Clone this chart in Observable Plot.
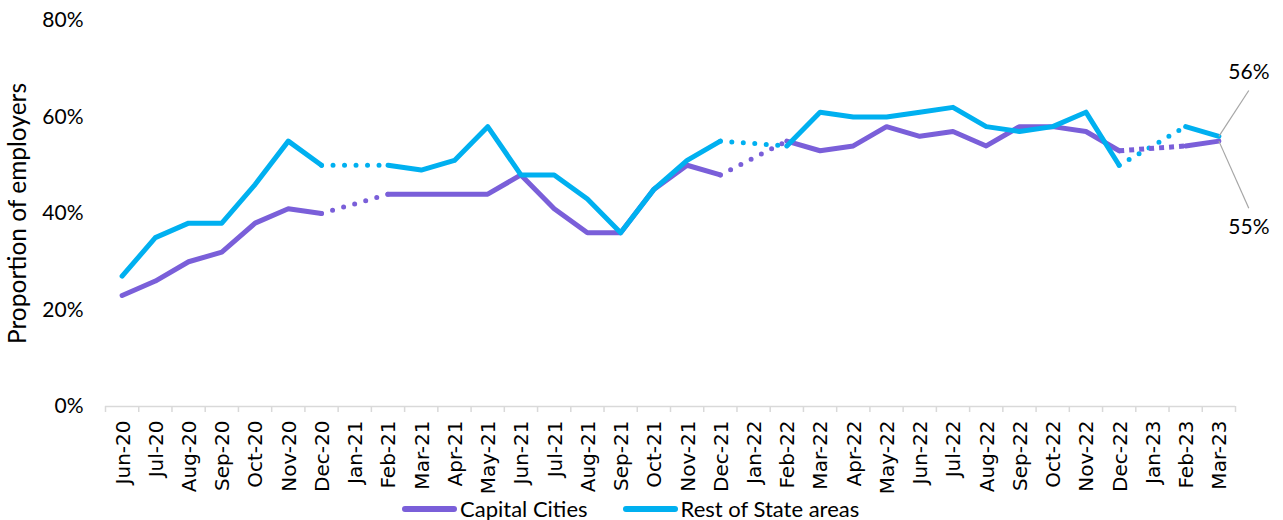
<!DOCTYPE html>
<html>
<head>
<meta charset="utf-8">
<script src="https://cdn.jsdelivr.net/npm/d3@7"></script>
<script src="https://cdn.jsdelivr.net/npm/@observablehq/plot@0.6"></script>
<style>
  html, body { margin: 0; padding: 0; background: #fff; }
  #wrap { position: relative; width: 1283px; height: 520px; }
  #legend { position: absolute; left: 402px; top: 497px; height: 23px; display: flex; align-items: center;
            font-family: Lato, sans-serif; font-size: 22px; color: #000; white-space: nowrap; }
  .sw { display: inline-block; width: 55px; height: 6px; border-radius: 3px; margin-right: 3px; }
  .item { display: flex; align-items: center; margin-right: 35px; }
</style>
</head>
<body>
<div id="wrap"></div>
<script>
const months = ["Jun-20","Jul-20","Aug-20","Sep-20","Oct-20","Nov-20","Dec-20","Jan-21","Feb-21","Mar-21","Apr-21","May-21",
  "Jun-21","Jul-21","Aug-21","Sep-21","Oct-21","Nov-21","Dec-21","Jan-22","Feb-22","Mar-22","Apr-22","May-22",
  "Jun-22","Jul-22","Aug-22","Sep-22","Oct-22","Nov-22","Dec-22","Jan-23","Feb-23","Mar-23"];
const capitalCities = [23,26,30,32,38,41,40,null,44,44,44,44,48,41,36,36,45,50,48,null,55,53,54,58,56,57,54,58,58,57,53,null,54,55];
const restOfState   = [27,35,38,38,46,55,50,null,50,49,51,58,48,48,43,36,45,51,55,null,54,61,60,60,61,62,58,57,58,61,50,null,58,56];
const seriesNames = ["Capital Cities", "Rest of State areas"];
const seriesColors = ["#7A5FD9", "#00B0F0"];
const yTicks = [0, 20, 40, 60, 80];

const series = [capitalCities, restOfState];
const rows = [];
const gaps = [];
series.forEach((vals, s) => {
  vals.forEach((v, i) => rows.push({s: seriesNames[s], i, v: v == null ? NaN : v}));
  vals.forEach((v, i) => {
    if (v == null && vals[i-1] != null && vals[i+1] != null) {
      const square = s === 0 && months[i] === "Jan-23";
      const id = seriesNames[s] + i;
      gaps.push({s: seriesNames[s], id, square, i: i-1, v: vals[i-1]});
      gaps.push({s: seriesNames[s], id, square, i: i+1, v: vals[i+1]});
    }
  });
});
const last = months.length - 1;
const endTop = [{v: restOfState[last], ly: 9.5}];
const endBottom = [{v: capitalCities[last], ly: -13.9}];
const color = d3.scaleOrdinal(seriesNames, seriesColors);
const sans = "Lato, sans-serif";

const chart = Plot.plot({
  width: 1283,
  height: 497,
  marginLeft: 105,
  marginRight: 48,
  marginTop: 20,
  marginBottom: 91,
  style: {fontFamily: sans, background: "#fff"},
  x: {type: "linear", domain: [-0.5, months.length - 0.5]},
  y: {domain: [0, 80]},
  marks: [
    Plot.ruleY([0], {stroke: "#D9D9D9", strokeWidth: 1.5}),
    Plot.axisX(d3.range(months.length + 1).map(i => i - 0.5), {tickSize: 6, tickFormat: () => "", label: null, stroke: "#D9D9D9", strokeWidth: 1.5}),
    Plot.axisX(d3.range(months.length), {tickSize: 0, tickPadding: 14, tickRotate: -90, tickFormat: i => months[i], label: null,
      fontFamily: "DejaVu Sans", fontSize: 20, fill: "#000", dx: 1}),
    Plot.axisY(yTicks, {tickSize: 0, tickPadding: 22, tickFormat: d => d + "%", fontSize: 21, fill: "#000", label: null}),
    Plot.text(["Proportion of employers"], {frameAnchor: "left", textAnchor: "middle", rotate: -90, dx: -87, fontSize: 24.5, fill: "#000", lineAnchor: "middle"}),
    ...seriesNames.map(name => Plot.line(gaps.filter(d => d.s === name && !d.square), {x: "i", y: "v", z: "id",
      stroke: color(name), strokeWidth: 5, strokeDasharray: "0 11.5", strokeLinecap: "round"})),
    ...seriesNames.map(name => Plot.line(gaps.filter(d => d.s === name && d.square), {x: "i", y: "v", z: "id",
      stroke: color(name), strokeWidth: 5, strokeDasharray: "5 5", strokeLinecap: "butt"})),
    ...seriesNames.map(name => Plot.line(rows.filter(d => d.s === name), {x: "i", y: "v",
      stroke: color(name), strokeWidth: 5, strokeLinecap: "round", strokeLinejoin: "round"})),
    Plot.link([...endTop, ...endBottom], {x1: last, y1: "v", x2: last + 0.9, y2: d => d.v + d.ly, stroke: "#A6A6A6", strokeWidth: 1.2}),
    Plot.text(endTop, {x: last, y: "v", dx: 30, dy: -64, text: d => d.v + "%", fontSize: 21, fill: "#000"}),
    Plot.text(endBottom, {x: last, y: "v", dx: 30, dy: 86, text: d => d.v + "%", fontSize: 21, fill: "#000"})
  ]
});
const wrap = document.getElementById("wrap");
wrap.appendChild(chart);
const legend = document.createElement("div");
legend.id = "legend";
seriesNames.forEach((n, k) => {
  const it = document.createElement("span");
  it.className = "item";
  it.innerHTML = `<span class="sw" style="background:${seriesColors[k]}"></span><span>${n}</span>`;
  legend.appendChild(it);
});
wrap.appendChild(legend);
</script>
</body>
</html>
